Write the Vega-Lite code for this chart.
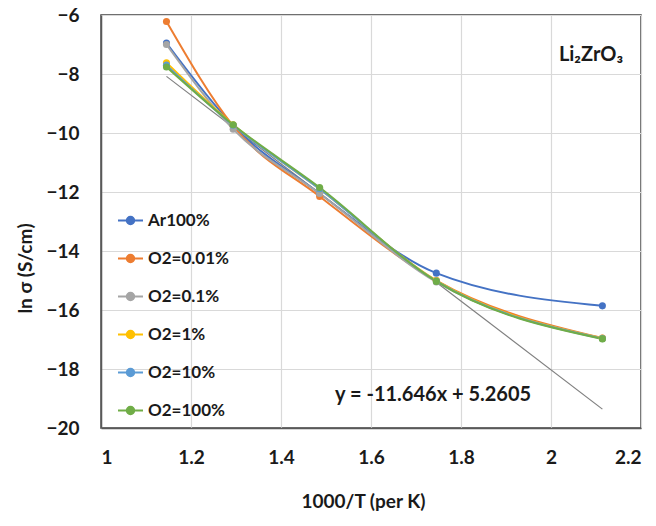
{
  "$schema": "https://vega.github.io/schema/vega-lite/v6.json",
  "width": 540,
  "height": 413,
  "autosize": {"type": "none"},
  "padding": {"left": 101, "top": 15, "right": 15, "bottom": 98},
  "background": "white",
  "config": {
    "font": "Lato",
    "view": {"stroke": "#404040", "strokeWidth": 1.5},
    "axis": {
      "labelFont": "Lato", "labelFontWeight": "bold", "labelFontSize": 19, "labelColor": "#1a1a1a",
      "titleFont": "Lato", "titleFontWeight": "bold", "titleFontSize": 19, "titleColor": "#1a1a1a",
      "gridColor": "#d9d9d9", "gridWidth": 1.2, "domainColor": "#595959", "domainWidth": 1.5,
      "ticks": false
    }
  },
  "datasets": {
    "series": [
      {"s": "Ar100%", "x": 1.1455, "y": -6.95},
      {"s": "Ar100%", "x": 1.2937, "y": -9.75},
      {"s": "Ar100%", "x": 1.4859, "y": -12.05},
      {"s": "Ar100%", "x": 1.7452, "y": -14.75},
      {"s": "Ar100%", "x": 2.1142, "y": -15.86},
      {"s": "O2=0.01%", "x": 1.1455, "y": -6.22},
      {"s": "O2=0.01%", "x": 1.2937, "y": -9.76},
      {"s": "O2=0.01%", "x": 1.4859, "y": -12.15},
      {"s": "O2=0.01%", "x": 1.7452, "y": -15.0},
      {"s": "O2=0.01%", "x": 2.1142, "y": -16.95},
      {"s": "O2=0.1%", "x": 1.1455, "y": -7.0},
      {"s": "O2=0.1%", "x": 1.2937, "y": -9.87},
      {"s": "O2=0.1%", "x": 1.4859, "y": -12.05},
      {"s": "O2=0.1%", "x": 1.7452, "y": -15.05},
      {"s": "O2=0.1%", "x": 2.1142, "y": -16.96},
      {"s": "O2=1%", "x": 1.1455, "y": -7.62},
      {"s": "O2=1%", "x": 1.2937, "y": -9.72},
      {"s": "O2=1%", "x": 1.4859, "y": -11.9},
      {"s": "O2=1%", "x": 1.7452, "y": -15.0},
      {"s": "O2=1%", "x": 2.1142, "y": -16.96},
      {"s": "O2=10%", "x": 1.1455, "y": -7.7},
      {"s": "O2=10%", "x": 1.2937, "y": -9.74},
      {"s": "O2=10%", "x": 1.4859, "y": -11.9},
      {"s": "O2=10%", "x": 1.7452, "y": -15.02},
      {"s": "O2=10%", "x": 2.1142, "y": -16.97},
      {"s": "O2=100%", "x": 1.1455, "y": -7.76},
      {"s": "O2=100%", "x": 1.2937, "y": -9.72},
      {"s": "O2=100%", "x": 1.4859, "y": -11.85},
      {"s": "O2=100%", "x": 1.7452, "y": -15.03},
      {"s": "O2=100%", "x": 2.1142, "y": -16.98}
    ],
    "trend": [
      {"x": 1.1455, "y": -8.08},
      {"x": 2.1142, "y": -19.36}
    ],
    "notes": [
      {"label": "y = -11.646x + 5.2605", "x": 1.738, "y": -18.88},
      {"label": "Li₂ZrO₃", "x": 2.089, "y": -7.36}
    ]
  },
  "layer": [
    {
      "data": {"name": "trend"},
      "mark": {"type": "line", "color": "#7f7f7f", "strokeWidth": 1.2},
      "encoding": {
        "x": {"field": "x", "type": "quantitative", "scale": {"domain": [1, 2.2]},
          "axis": {"values": [1, 1.2, 1.4, 1.6, 1.8, 2, 2.2], "format": "~g", "labelPadding": 20, "title": "1000/T (per K)",
                   "titleX": 262, "titleY": 73, "titleBaseline": "middle", "titleAlign": "center"}},
        "y": {"field": "y", "type": "quantitative", "scale": {"domain": [-20, -6]},
          "axis": {"values": [-20, -18, -16, -14, -12, -10, -8, -6], "labelPadding": 22, "title": "ln σ (S/cm)",
                   "titleX": -76, "titleY": 253, "titleBaseline": "middle", "titleAlign": "center", "titleAngle": -90}}
      }
    },
    {
      "data": {"name": "series"},
      "mark": {"type": "line", "interpolate": "monotone", "strokeWidth": 2},
      "encoding": {
        "x": {"field": "x", "type": "quantitative"},
        "y": {"field": "y", "type": "quantitative"},
        "color": {"field": "s", "type": "nominal",
          "scale": {"domain": ["Ar100%", "O2=0.01%", "O2=0.1%", "O2=1%", "O2=10%", "O2=100%"],
                    "range": ["#4472C4", "#ED7D31", "#A5A5A5", "#FFC000", "#5B9BD5", "#70AD47"]},
          "legend": {
            "orient": "none", "legendX": 16, "legendY": 192, "title": null,
            "symbolType": "M-1,0L1,0M-0.3,0A0.3,0.3 0 1,1 0.3,0A0.3,0.3 0 1,1 -0.3,0Z",
            "symbolSize": 625, "symbolStrokeWidth": 2,
            "labelFont": "Lato", "labelFontWeight": "bold", "labelFontSize": 17, "labelColor": "#1a1a1a",
            "rowPadding": 16, "labelOffset": 4,
            "encode": {"symbols": {"update": {"stroke": {"scale": "color", "field": "value"}, "fill": {"scale": "color", "field": "value"}}}}
          }
        }
      }
    },
    {
      "data": {"name": "series"},
      "mark": {"type": "point", "filled": true, "size": 50, "opacity": 1},
      "encoding": {
        "x": {"field": "x", "type": "quantitative"},
        "y": {"field": "y", "type": "quantitative"},
        "color": {"field": "s", "type": "nominal", "legend": null}
      }
    },
    {
      "data": {"name": "notes"},
      "mark": {"type": "text", "font": "Lato", "fontWeight": "bold", "fontSize": 20, "color": "#1a1a1a", "align": "center", "baseline": "middle"},
      "encoding": {
        "x": {"field": "x", "type": "quantitative"},
        "y": {"field": "y", "type": "quantitative"},
        "text": {"field": "label"}
      }
    }
  ]
}
